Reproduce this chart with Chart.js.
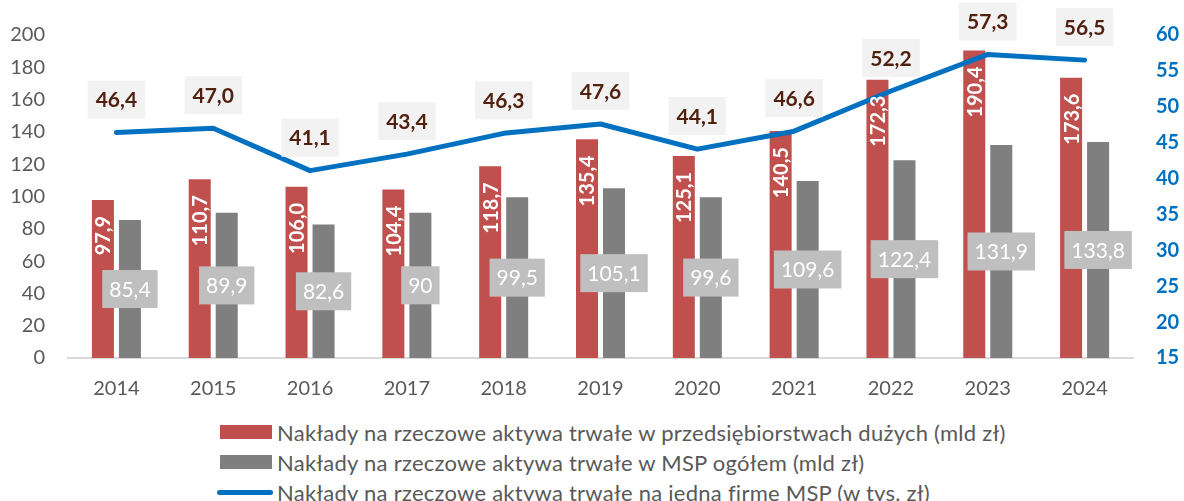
<!DOCTYPE html>
<html>
<head>
<meta charset="utf-8">
<script src="https://cdn.jsdelivr.net/npm/chart.js@4.4.1/dist/chart.umd.min.js"></script>
<style>
  body { margin:0; background:#fff; width:1184px; height:501px; overflow:hidden; font-family:Lato, sans-serif; position:relative; }
  #wrap { position:absolute; left:0; top:0; width:1184px; height:410px; }
  #legend { position:absolute; left:217px; top:417px; color:#595959; font-size:22px; letter-spacing:0.25px; }
  .row { height:30px; display:flex; align-items:center; white-space:nowrap; }
  .sw { display:inline-block; width:52px; margin-left:3px; margin-right:5px; }
</style>
</head>
<body>
<div id="wrap"><canvas id="chart"></canvas></div>
<div id="legend"></div>
<script>
// DATA
const years = ['2014','2015','2016','2017','2018','2019','2020','2021','2022','2023','2024'];
const largeFirms = [97.9, 110.7, 106.0, 104.4, 118.7, 135.4, 125.1, 140.5, 172.3, 190.4, 173.6];
const smeTotal = [85.4, 89.9, 82.6, 90, 99.5, 105.1, 99.6, 109.6, 122.4, 131.9, 133.8];
const perSme = [46.4, 47.0, 41.1, 43.4, 46.3, 47.6, 44.1, 46.6, 52.2, 57.3, 56.5];
const seriesNames = [
  'Nakłady na rzeczowe aktywa trwałe w przedsiębiorstwach dużych (mld zł)',
  'Nakłady na rzeczowe aktywa trwałe w MSP ogółem (mld zł)',
  'Nakłady na rzeczowe aktywa trwałe na jedną firmę MSP (w tys. zł)'
];

const RED = '#c0504d', GRAY = '#7f7f7f', BLUE = '#0070c0';
const fmt1 = v => v.toFixed(1).replace('.', ',');
const fmt = v => String(v).replace('.', ',');

// draw a label in a filled box
function boxLabel(ctx, text, x, y, bg, color, font, padX, h) {
  ctx.font = font;
  const w = ctx.measureText(text).width + padX * 2;
  ctx.fillStyle = bg;
  ctx.fillRect(x - w / 2, y - h / 2, w, h);
  ctx.fillStyle = color;
  ctx.textAlign = 'center';
  ctx.textBaseline = 'middle';
  ctx.fillText(text, x, y + 1);
}

const labelPlugin = {
  id: 'labels',
  afterDatasetsDraw(chart) {
    const ctx = chart.ctx;
    const y = chart.scales.y;
    ctx.save();
    // red bars: rotated white labels at the top inside
    chart.getDatasetMeta(0).data.forEach((bar, i) => {
      ctx.save();
      ctx.translate(bar.x, bar.y + 16);
      ctx.rotate(-Math.PI / 2);
      ctx.font = 'bold 20px Lato';
      ctx.fillStyle = '#fff';
      ctx.textAlign = 'right';
      ctx.textBaseline = 'middle';
      ctx.fillText(fmt1(largeFirms[i]), 0, 1);
      ctx.restore();
    });
    // gray bars: boxed labels at middle
    chart.getDatasetMeta(1).data.forEach((bar, i) => {
      const mid = (bar.y + y.getPixelForValue(0)) / 2;
      boxLabel(ctx, fmt(smeTotal[i]), bar.x, mid, '#bfbfbf', '#fff', '21px Lato', 7, 38);
    });
    // line: boxed labels above points
    chart.getDatasetMeta(2).data.forEach((pt, i) => {
      boxLabel(ctx, fmt1(perSme[i]), pt.x, Math.max(pt.y - 33, 19), '#f2f2f2', '#52200f', 'bold 21px Lato', 8, 38);
    });
    ctx.restore();
  }
};

new Chart(document.getElementById('chart'), {
  data: {
    labels: years,
    datasets: [
      { type:'bar', label: seriesNames[0], data: largeFirms, backgroundColor: RED, yAxisID:'y', order:1,
        categoryPercentage:0.558, barPercentage:0.815 },
      { type:'bar', label: seriesNames[1], data: smeTotal, backgroundColor: GRAY, yAxisID:'y', order:2,
        categoryPercentage:0.558, barPercentage:0.815 },
      { type:'line', label: seriesNames[2], data: perSme, borderColor: BLUE, borderWidth:5, pointRadius:0,
        borderJoinStyle:'round', borderCapStyle:'round', tension:0, yAxisID:'y1', order:0 }
    ]
  },
  options: {
    responsive:true, maintainAspectRatio:false, animation:false,
    layout: { padding: { top:28, bottom:0, left:0, right:0 } },
    plugins: { legend:{ display:false }, tooltip:{ enabled:false } },
    scales: {
      x: {
        grid:{ display:false, drawTicks:false },
        border:{ display:true, color:'#d9d9d9', width:2 },
        ticks:{ color:'#595959', font:{ family:'Lato', size:20 }, padding:19 },
        afterFit: s => { s.height = 52; }
      },
      y: {
        position:'left', min:0, max:200,
        grid:{ display:false, drawTicks:false }, border:{ display:false },
        ticks:{ stepSize:20, color:'#595959', font:{ family:'Lato', size:20 }, padding:23 },
        afterFit: s => { s.width = 68; }
      },
      y1: {
        position:'right', min:15, max:60,
        grid:{ display:false, drawTicks:false }, border:{ display:false },
        ticks:{ stepSize:5, color:BLUE, font:{ family:'Lato', size:20, weight:'bold' }, padding:23 },
        afterFit: s => { s.width = 51; }
      }
    }
  },
  plugins: [labelPlugin]
});

// LEGEND
const legend = document.getElementById('legend');
const swatches = [
  `<span class="sw" style="height:14px;background:${RED}"></span>`,
  `<span class="sw" style="height:14px;background:${GRAY}"></span>`,
  `<span class="sw" style="height:5px;border-radius:3px;background:${BLUE};width:56px;margin-left:0;margin-right:4px"></span>`
];
seriesNames.forEach((n, i) => {
  const row = document.createElement('div');
  row.className = 'row';
  row.innerHTML = swatches[i] + '<span>' + n + '</span>';
  legend.appendChild(row);
});
</script>
</body>
</html>
